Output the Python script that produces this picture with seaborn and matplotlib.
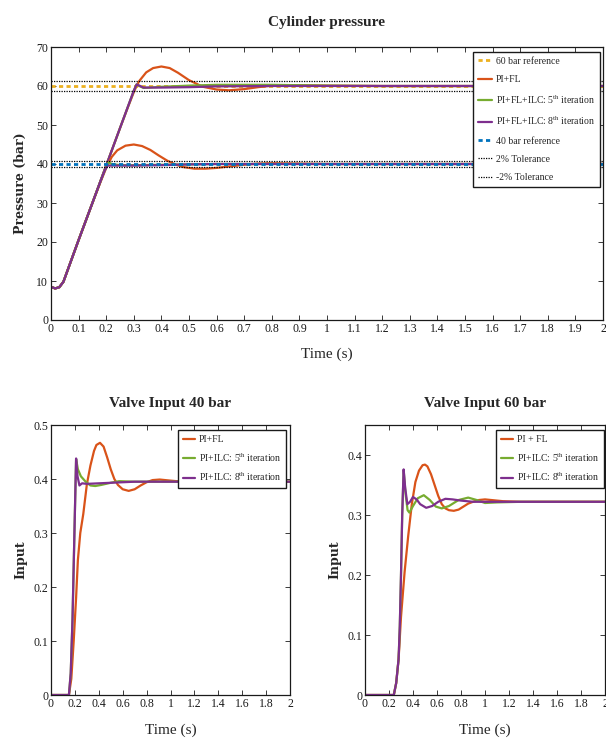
import matplotlib
matplotlib.use("Agg")
import matplotlib.pyplot as plt
import seaborn as sns

# ---- data ----
# Cylinder pressure, 60 bar set point
t_fl60 = [0, 0.015, 0.03, 0.045, 0.1, 0.15, 0.2, 0.25, 0.28, 0.3, 0.31, 0.32, 0.345, 0.37, 0.4,
          0.43, 0.46, 0.5, 0.55, 0.6, 0.645, 0.7, 0.75, 0.8, 0.85, 0.9, 1.0, 1.2, 2.0]
p_fl60 = [8.5, 8.1, 8.4, 9.8, 20.5, 30.0, 39.6, 49.2, 54.8, 58.4, 60.0, 61.3, 63.5, 64.6, 65.0,
          64.6, 63.4, 61.5, 59.8, 59.1, 58.9, 59.2, 59.7, 60.1, 60.2, 60.2, 60.1, 60.0, 60.0]
t_i5_60 = [0, 0.015, 0.03, 0.045, 0.1, 0.15, 0.2, 0.25, 0.3, 0.31, 0.32, 0.335, 0.36, 0.4,
           0.5, 0.6, 0.7, 0.8, 0.9, 1.0, 1.2, 2.0]
p_i5_60 = [8.5, 8.1, 8.4, 9.8, 20.5, 30.0, 39.6, 49.2, 58.8, 60.4, 60.0, 59.5, 59.6, 59.8,
           60.1, 60.3, 60.3, 60.3, 60.2, 60.1, 60.0, 60.0]
t_i8_60 = [0, 0.015, 0.03, 0.045, 0.1, 0.15, 0.2, 0.25, 0.3, 0.31, 0.32, 0.335, 0.36, 0.4,
           0.5, 0.6, 0.8, 1.0, 2.0]
p_i8_60 = [8.5, 8.1, 8.4, 9.8, 20.5, 30.0, 39.6, 49.2, 58.8, 60.4, 60.1, 59.6, 59.6, 59.6,
           59.7, 59.9, 60.0, 60.0, 60.0]

# Cylinder pressure, 40 bar set point
t_fl40 = [0, 0.015, 0.03, 0.045, 0.1, 0.15, 0.18, 0.2, 0.22, 0.24, 0.27, 0.3, 0.33, 0.36,
          0.39, 0.42, 0.45, 0.48, 0.52, 0.56, 0.6, 0.65, 0.7, 0.75, 0.8, 0.9, 1.0, 2.0]
p_fl40 = [8.5, 8.1, 8.4, 9.8, 20.5, 30.0, 35.5, 39.0, 41.8, 43.5, 44.7, 45.0, 44.6, 43.6,
          42.2, 40.9, 39.9, 39.2, 38.8, 38.8, 39.0, 39.4, 39.8, 40.1, 40.2, 40.1, 40.0, 40.0]
t_i5_40 = [0, 0.015, 0.03, 0.045, 0.1, 0.15, 0.18, 0.195, 0.208, 0.22, 0.25, 0.3, 0.4,
           0.5, 0.6, 2.0]
p_i5_40 = [8.5, 8.1, 8.4, 9.8, 20.5, 30.0, 35.7, 38.4, 40.4, 40.0, 39.7, 39.7, 39.8,
           39.9, 40.0, 40.0]
t_i8_40 = [0, 0.015, 0.03, 0.045, 0.1, 0.15, 0.18, 0.195, 0.205, 0.22, 0.3, 0.4, 0.5,
           0.6, 2.0]
p_i8_40 = [8.5, 8.1, 8.4, 9.8, 20.5, 30.0, 35.7, 38.4, 39.6, 39.6, 39.6, 39.7, 39.9,
           40.0, 40.0]

ref_60 = 60
ref_40 = 40
tol_plus = [61.2, 40.8]
tol_minus = [58.8, 39.2]

# Valve input, 40 bar
tv_fl40 = [0, 0.15, 0.17, 0.19, 0.21, 0.225, 0.245, 0.27, 0.3, 0.33, 0.36, 0.38, 0.41, 0.44,
           0.47, 0.5, 0.53, 0.56, 0.6, 0.65, 0.7, 0.75, 0.8, 0.85, 0.91, 1.0, 1.1, 1.3, 2.0]
u_fl40 = [0, 0, 0.03, 0.1, 0.18, 0.25, 0.3, 0.335, 0.39, 0.425, 0.452, 0.463, 0.467, 0.46,
          0.44, 0.418, 0.4, 0.389, 0.381, 0.378, 0.381, 0.388, 0.394, 0.398, 0.399, 0.397,
          0.395, 0.395, 0.395]
tv_i5_40 = [0, 0.15, 0.165, 0.18, 0.195, 0.21, 0.225, 0.25, 0.29, 0.33, 0.37, 0.42, 0.5,
            0.57, 0.7, 2.0]
u_i5_40 = [0, 0, 0.04, 0.14, 0.29, 0.437, 0.418, 0.405, 0.395, 0.388, 0.387, 0.389, 0.393,
           0.396, 0.395, 0.395]
tv_i8_40 = [0, 0.15, 0.165, 0.18, 0.195, 0.21, 0.222, 0.238, 0.26, 0.3, 0.4, 0.5, 0.7, 2.0]
u_i8_40 = [0, 0, 0.04, 0.14, 0.29, 0.438, 0.405, 0.388, 0.392, 0.391, 0.392, 0.393, 0.395,
           0.395]

# Valve input, 60 bar
tv_fl60 = [0, 0.24, 0.26, 0.28, 0.3, 0.33, 0.36, 0.39, 0.42, 0.45, 0.48, 0.5, 0.52, 0.55,
           0.58, 0.61, 0.64, 0.67, 0.7, 0.74, 0.78, 0.82, 0.86, 0.9, 0.95, 1.0, 1.05, 1.15,
           1.3, 2.0]
u_fl60 = [0, 0, 0.02, 0.06, 0.13, 0.205, 0.265, 0.318, 0.355, 0.374, 0.383, 0.384, 0.381,
          0.368, 0.35, 0.332, 0.318, 0.311, 0.308, 0.307, 0.309, 0.314, 0.319, 0.322, 0.325,
          0.326, 0.325, 0.323, 0.322, 0.322]
tv_i5_60 = [0, 0.24, 0.26, 0.28, 0.29, 0.3, 0.31, 0.322, 0.338, 0.355, 0.37, 0.4, 0.44,
            0.49, 0.54, 0.59, 0.64, 0.7, 0.78, 0.86, 0.93, 1.0, 1.1, 1.3, 2.0]
u_i5_60 = [0, 0, 0.02, 0.06, 0.115, 0.2, 0.3, 0.375, 0.335, 0.308, 0.304, 0.315, 0.328,
           0.333, 0.325, 0.314, 0.311, 0.315, 0.325, 0.329, 0.325, 0.320, 0.321, 0.322, 0.322]
tv_i8_60 = [0, 0.24, 0.26, 0.28, 0.29, 0.3, 0.31, 0.322, 0.335, 0.353, 0.375, 0.4, 0.43,
            0.46, 0.51, 0.56, 0.61, 0.67, 0.73, 0.8, 0.9, 1.0, 2.0]
u_i8_60 = [0, 0, 0.02, 0.06, 0.115, 0.2, 0.3, 0.376, 0.345, 0.318, 0.322, 0.330, 0.326,
           0.318, 0.312, 0.315, 0.322, 0.327, 0.326, 0.324, 0.322, 0.322, 0.322]

x_ticks_top = [0, 0.1, 0.2, 0.3, 0.4, 0.5, 0.6, 0.7, 0.8, 0.9, 1, 1.1, 1.2, 1.3, 1.4, 1.5,
               1.6, 1.7, 1.8, 1.9, 2]
x_ticks_bottom = [0, 0.2, 0.4, 0.6, 0.8, 1, 1.2, 1.4, 1.6, 1.8, 2]

C_ORANGE = "#D95319"
C_GREEN = "#77AC30"
C_PURPLE = "#7E2F8E"
C_YELLOW = "#EDB120"
C_BLUE = "#0072BD"

sns.set_style("ticks")
plt.rcParams["font.family"] = ["Liberation Serif", "DejaVu Serif"]
plt.rcParams["mathtext.fontset"] = "custom"
plt.rcParams["mathtext.rm"] = "Liberation Serif"
plt.rcParams["mathtext.it"] = "Liberation Serif:italic"


def tick_fmt(v):
    return ("%g" % v)


def style_axes(ax, xticks, xpad):
    ax.set_xlim(0, 2)
    ax.set_xticks(xticks)
    ax.set_xticklabels([tick_fmt(v) for v in xticks])
    ax.tick_params(direction="in", top=True, right=True, length=3.5, width=0.6,
                   labelsize=8.5, pad=2, colors="#1a1a1a")
    for s in ax.spines.values():
        s.set_color("#1a1a1a")
        s.set_linewidth(0.9)
        s.set_visible(True)
    ax.set_xlabel("Time (s)", fontsize=11, labelpad=xpad)


def line(ax, t, y, color, label=None, lw=1.6):
    sns.lineplot(x=t, y=y, ax=ax, color=color, linewidth=lw, label=label,
                 estimator=None, sort=False, legend=False)


def add_legend(ax, anchor, handlelength, labelspacing):
    ax.legend(loc="upper right", bbox_to_anchor=anchor, borderaxespad=0,
              fontsize=7, frameon=True, fancybox=False, edgecolor="#1a1a1a",
              framealpha=1, handlelength=handlelength, handletextpad=0.4,
              labelspacing=labelspacing, borderpad=0.5)


fig = plt.figure(figsize=(6.06, 7.38), dpi=100)

# ---- top: cylinder pressure ----
ax = fig.add_axes([51 / 606, 1 - 320 / 738, 552 / 606, 273 / 738])
ax.axhline(ref_60, color=C_YELLOW, linestyle=(0, (1.5, 1.2)), linewidth=2, label="60 bar reference")
line(ax, t_fl60, p_fl60, C_ORANGE, "PI+FL")
line(ax, t_i5_60, p_i5_60, C_GREEN, r"PI+FL+ILC: 5$^{\mathrm{th}}$ iteration")
line(ax, t_i8_60, p_i8_60, C_PURPLE, r"PI+FL+ILC: 8$^{\mathrm{th}}$ iteration")
line(ax, t_fl40, p_fl40, C_ORANGE)
line(ax, t_i5_40, p_i5_40, C_GREEN)
line(ax, t_i8_40, p_i8_40, C_PURPLE)
ax.axhline(ref_40, color=C_BLUE, linestyle=(0, (1.5, 1.2)), linewidth=2, label="40 bar reference")
for i, v in enumerate(tol_plus):
    ax.axhline(v, color="black", linestyle=(0, (1, 1)), linewidth=0.9,
               label="2% Tolerance" if i == 0 else None)
for i, v in enumerate(tol_minus):
    ax.axhline(v, color="black", linestyle=(0, (1, 1)), linewidth=0.9,
               label="-2% Tolerance" if i == 0 else None)
ax.set_ylim(0, 70)
ax.set_yticks([0, 10, 20, 30, 40, 50, 60, 70])
style_axes(ax, x_ticks_top, 9)
ax.set_ylabel("Pressure (bar)", family="DejaVu Serif", fontsize=9, fontweight="bold",
              labelpad=7)
ax.set_title("Cylinder pressure", fontsize=11, fontweight="bold", pad=15)
add_legend(ax, (0.995, 0.982), 1.5, 0.95)

# ---- bottom left: valve input 40 bar ----
ax1 = fig.add_axes([51 / 606, 1 - 695 / 738, 239 / 606, 270 / 738])
line(ax1, tv_fl40, u_fl40, C_ORANGE, "PI+FL")
line(ax1, tv_i5_40, u_i5_40, C_GREEN, r"PI+ILC: 5$^{\mathrm{th}}$ iteration")
line(ax1, tv_i8_40, u_i8_40, C_PURPLE, r"PI+ILC: 8$^{\mathrm{th}}$ iteration")
ax1.set_ylim(0, 0.5)
ax1.set_yticks([0, 0.1, 0.2, 0.3, 0.4, 0.5])
ax1.set_yticklabels([tick_fmt(v) for v in [0, 0.1, 0.2, 0.3, 0.4, 0.5]])
style_axes(ax1, x_ticks_bottom, 10)
ax1.set_ylabel("Input", family="DejaVu Serif", fontsize=9, fontweight="bold", labelpad=4)
ax1.set_title("Valve Input 40 bar", fontsize=11, fontweight="bold", pad=13)
add_legend(ax1, (0.983, 0.981), 1.2, 0.75)

# ---- bottom right: valve input 60 bar ----
ax2 = fig.add_axes([365 / 606, 1 - 695 / 738, 240 / 606, 270 / 738])
line(ax2, tv_fl60, u_fl60, C_ORANGE, "PI + FL")
line(ax2, tv_i5_60, u_i5_60, C_GREEN, r"PI+ILC: 5$^{\mathrm{th}}$ iteration")
line(ax2, tv_i8_60, u_i8_60, C_PURPLE, r"PI+ILC: 8$^{\mathrm{th}}$ iteration")
ax2.set_ylim(0, 0.45)
ax2.set_yticks([0, 0.1, 0.2, 0.3, 0.4])
ax2.set_yticklabels([tick_fmt(v) for v in [0, 0.1, 0.2, 0.3, 0.4]])
style_axes(ax2, x_ticks_bottom, 10)
ax2.set_ylabel("Input", family="DejaVu Serif", fontsize=9, fontweight="bold", labelpad=4)
ax2.set_title("Valve Input 60 bar", fontsize=11, fontweight="bold", pad=13)
add_legend(ax2, (0.996, 0.981), 1.2, 0.75)

fig.savefig("out.png", dpi=100)
